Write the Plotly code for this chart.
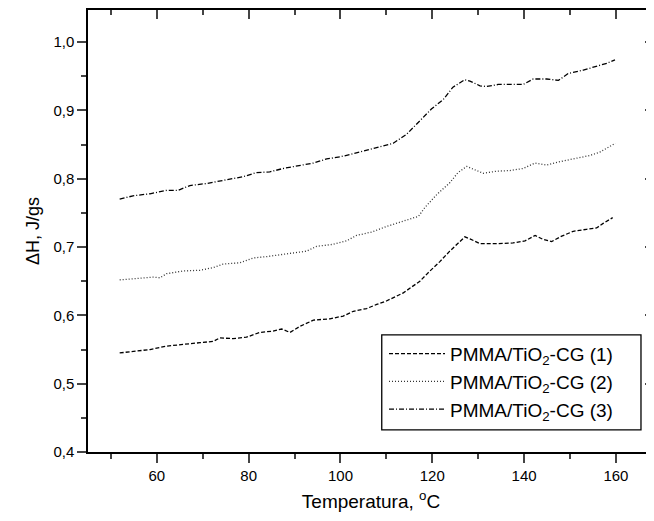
import plotly.graph_objects as go

# Curve (1) PMMA/TiO2-CG (1)
x1 = [51.9, 54.8, 58.5, 62.1, 65.7, 69.4, 72.3, 73.7, 76.6, 79.5, 82.4, 85.3, 87.2, 89.0, 91.2,
      94.1, 97.7, 100.6, 102.8, 105.7, 107.9, 110.0, 113.7, 117.3, 119.5, 121.7, 123.8, 125.6,
      127.1, 128.2, 130.4, 134.0, 137.6, 140.2, 142.4, 144.2, 146.0, 148.2, 150.7, 153.6, 155.8,
      157.3, 159.3]
y1 = [0.545, 0.547, 0.550, 0.555, 0.557, 0.560, 0.562, 0.567, 0.566, 0.568, 0.575, 0.577, 0.580,
      0.575, 0.584, 0.593, 0.595, 0.599, 0.606, 0.610, 0.616, 0.621, 0.633, 0.650, 0.665, 0.679,
      0.694, 0.706, 0.715, 0.712, 0.705, 0.705, 0.706, 0.709, 0.717, 0.711, 0.708, 0.716, 0.723,
      0.726, 0.728, 0.735, 0.743]

# Curve (2)
x2 = [51.9, 56.3, 59.2, 60.7, 62.1, 65.7, 69.4, 72.3, 74.4, 78.1, 81.0, 83.9, 86.8, 89.7, 92.6,
      94.8, 98.4, 101.3, 103.5, 106.8, 110.0, 113.7, 117.0, 118.4, 121.0, 123.8, 125.6, 127.5,
      128.9, 131.1, 134.0, 136.9, 139.8, 142.4, 144.9, 147.8, 151.4, 154.3, 156.5, 157.6, 159.9]
y2 = [0.652, 0.655, 0.656, 0.655, 0.661, 0.665, 0.666, 0.670, 0.675, 0.677, 0.684, 0.686, 0.689,
      0.692, 0.694, 0.701, 0.704, 0.709, 0.717, 0.722, 0.730, 0.738, 0.745, 0.758, 0.777, 0.794,
      0.809, 0.818, 0.814, 0.808, 0.811, 0.812, 0.815, 0.823, 0.820, 0.825, 0.830, 0.834, 0.839,
      0.843, 0.852]

# Curve (3)
x3 = [51.9, 54.8, 58.5, 62.1, 64.6, 67.2, 70.8, 75.2, 78.8, 81.7, 84.6, 87.5, 91.2, 94.1, 97.0,
      99.9, 104.2, 107.0, 110.0, 111.5, 114.4, 117.3, 119.8, 122.4, 124.5, 127.1, 128.2, 130.4,
      131.8, 134.4, 136.9, 139.8, 142.0, 144.9, 147.5, 149.6, 152.9, 155.8, 158.0, 159.8]
y3 = [0.770, 0.775, 0.778, 0.783, 0.783, 0.790, 0.793, 0.798, 0.803, 0.809, 0.810, 0.815, 0.819,
      0.823, 0.829, 0.832, 0.839, 0.844, 0.850, 0.852, 0.865, 0.885, 0.902, 0.916, 0.934, 0.945,
      0.943, 0.936, 0.935, 0.938, 0.938, 0.938, 0.946, 0.946, 0.944, 0.954, 0.959, 0.965, 0.969,
      0.974]

names = ["PMMA/TiO<sub>2</sub>-CG (1)", "PMMA/TiO<sub>2</sub>-CG (2)", "PMMA/TiO<sub>2</sub>-CG (3)"]
y_ticks = [0.4, 0.5, 0.6, 0.7, 0.8, 0.9, 1.0]
x_ticks = [60, 80, 100, 120, 140, 160]

xr = [45, 168.3]
yr = [0.4, 1.047]
font = "Liberation Sans, Arial, sans-serif"

fig = go.Figure()
fig.add_trace(go.Scatter(x=x1, y=y1, mode="lines", name=names[0],
                         line=dict(color="black", width=1.3, dash="4px,2px")))
fig.add_trace(go.Scatter(x=x2, y=y2, mode="lines", name=names[1],
                         line=dict(color="#333333", width=1.3, dash="1px,2px")))
fig.add_trace(go.Scatter(x=x3, y=y3, mode="lines", name=names[2],
                         line=dict(color="black", width=1.3, dash="5px,2px,1px,2px")))
# invisible trace for mirrored axes
fig.add_trace(go.Scatter(x=[xr[0]], y=[yr[0]], xaxis="x2", yaxis="y2", mode="markers",
                         marker=dict(opacity=0), showlegend=False, hoverinfo="skip"))

fig.update_layout(
    width=654, height=521,
    margin=dict(l=80, r=8, t=2, b=77),
    plot_bgcolor="white", paper_bgcolor="white",
    separators=",.",
    font=dict(family=font, color="black", size=15),
    showlegend=True,
    legend=dict(x=0.523, y=0.265, xanchor="left", yanchor="top",
                borderwidth=0, bgcolor="rgba(0,0,0,0)",
                font=dict(size=19), itemwidth=56, tracegroupgap=0),
    shapes=[dict(type="rect", xref="paper", yref="paper", x0=0.519, x1=0.977,
                 y0=0.050, y1=0.265, line=dict(color="black", width=1.3),
                 fillcolor="rgba(0,0,0,0)", layer="above")],
    xaxis=dict(range=xr, tickvals=x_ticks, ticks="outside", ticklen=9, tickwidth=1.5,
               showline=True, linecolor="black", linewidth=1.5, showgrid=False, zeroline=False,
               minor=dict(dtick=10, tick0=0, ticks="outside", ticklen=5, tickwidth=1.5),
               title=dict(text="Temperatura, <sup>o</sup>C", font=dict(size=19), standoff=12),
               tickfont=dict(size=15)),
    yaxis=dict(range=yr, tickvals=y_ticks, tickformat=".1f", ticks="outside", ticklen=9,
               tickwidth=1.5, showline=True, linecolor="black", linewidth=1.5, showgrid=False,
               zeroline=False,
               minor=dict(dtick=0.05, tick0=0, ticks="outside", ticklen=5, tickwidth=1.5),
               title=dict(text="ΔH, J/gs", font=dict(size=18), standoff=9),
               tickfont=dict(size=15)),
    xaxis2=dict(range=xr, overlaying="x", side="top", tickvals=x_ticks, ticks="inside",
                ticklen=9, tickwidth=1.5, showticklabels=False, showline=True,
                linecolor="black", linewidth=1.5, showgrid=False, zeroline=False,
                minor=dict(dtick=10, tick0=0, ticks="inside", ticklen=5, tickwidth=1.5)),
    yaxis2=dict(range=yr, overlaying="y", side="right", tickvals=y_ticks, ticks="inside",
                ticklen=9, tickwidth=1.5, showticklabels=False, showline=True,
                linecolor="black", linewidth=1.5, showgrid=False, zeroline=False,
                minor=dict(dtick=0.05, tick0=0, ticks="inside", ticklen=5, tickwidth=1.5)),
)

fig.write_html("out.html")
